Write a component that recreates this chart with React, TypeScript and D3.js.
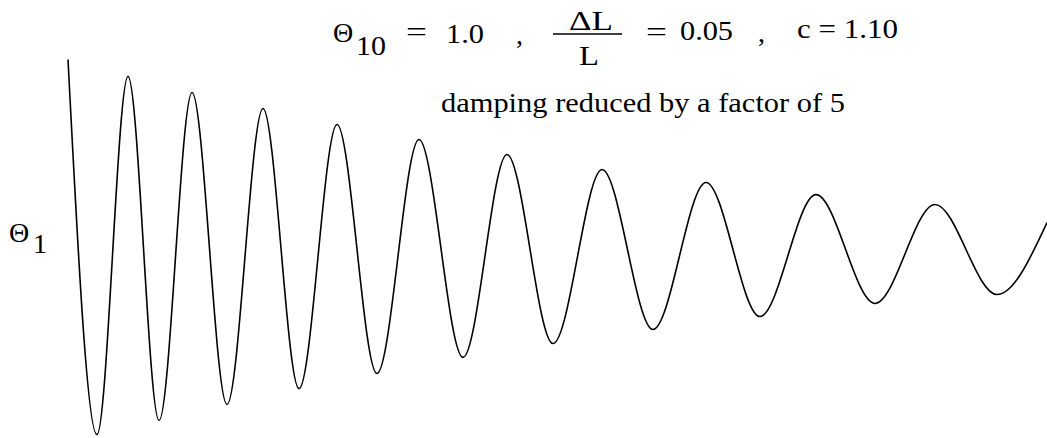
import React from "react";
import * as d3 from "d3";

// time (arbitrary units) of each turning point of the oscillation
const times = [0, 2.96, 6.13, 9.3, 12.67, 16.24, 19.92, 23.6, 27.48, 31.56, 35.85, 40.35, 44.84, 49.54, 54.55, 59.75, 65.17, 70.68, 76.4, 82.43, 88.56, 94.89, 100];
// Θ1 at those turning points
const theta = [1.0, -0.974, 0.911, -0.9, 0.826, -0.816, 0.742, -0.732, 0.658, -0.653, 0.579, -0.568, 0.5, -0.495, 0.421, -0.421, 0.353, -0.353, 0.289, -0.284, 0.237, -0.237, 0.142];

export default function App() {
  const x = d3.scaleLinear().domain([0, 100]).range([68, 1047]);
  const y = d3.scaleLinear().domain([-1, 1]).range([439.5, 59.5]);
  const pts = times.map((t, i) => [t, theta[i]] as [number, number]);
  const line = d3
    .line<[number, number]>()
    .x((d) => x(d[0]))
    .y((d) => y(d[1]))
    .curve(d3.curveMonotoneX);

  return (
    <svg width={1047} height={438} style={{ position: "absolute", left: 0, top: 0 }}>
      <style>{`text { font-family: "Liberation Serif"; }`}</style>
      <text x={441} y={112} fontSize={28} fontFamily="Liberation Serif" textLength={404} lengthAdjust="spacingAndGlyphs">damping reduced by a factor of 5</text>
      <text x={797} y={38} fontSize={28} fontFamily="Liberation Serif" textLength={101} lengthAdjust="spacingAndGlyphs">c = 1.10</text>
      <text x={680} y={40} fontSize={28} fontFamily="Liberation Serif" textLength={53} lengthAdjust="spacingAndGlyphs">0.05</text>
      <text x={446} y={43} fontSize={28} fontFamily="Liberation Serif" textLength={38} lengthAdjust="spacingAndGlyphs">1.0</text>
      <text x={406} y={41} fontSize={28} fontFamily="Liberation Serif" textLength={21} lengthAdjust="spacingAndGlyphs">=</text>
      <text x={646} y={41} fontSize={28} fontFamily="Liberation Serif" textLength={21} lengthAdjust="spacingAndGlyphs">=</text>
      <text x={516} y={44} fontSize={28} fontFamily="Liberation Serif">,</text>
      <text x={758} y={42} fontSize={28} fontFamily="Liberation Serif">,</text>
      <text x={579} y={65} fontSize={28} fontFamily="Liberation Serif" textLength={20} lengthAdjust="spacingAndGlyphs">L</text>
      <text x={356} y={55} fontSize={28} fontFamily="Liberation Serif" textLength={30} lengthAdjust="spacingAndGlyphs">10</text>
      <text x={33} y={253} fontSize={28} fontFamily="Liberation Serif">1</text>
      <text x={569} y={30} fontSize={28} fontFamily="Liberation Serif" textLength={44} lengthAdjust="spacingAndGlyphs">ΔL</text>
      <text x={333} y={42} fontSize={28} fontFamily="Liberation Serif">Θ</text>
      <text x={9} y={242} fontSize={28} fontFamily="Liberation Serif">Θ</text>
      <line x1={553} x2={622} y1={34} y2={34} stroke="#000" strokeWidth={1.3} />
      <path d={line(pts) || ""} fill="none" stroke="#000" strokeWidth={1.6} />
    </svg>
  );
}
